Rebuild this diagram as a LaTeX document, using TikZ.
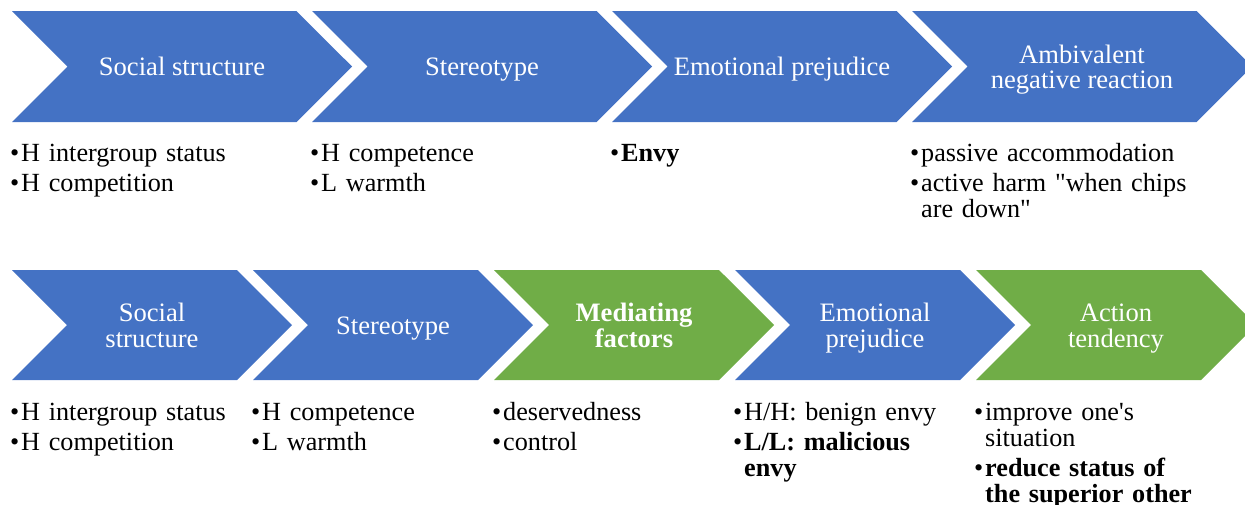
\documentclass[tikz,border=0pt]{standalone}
\usepackage{fontspec}
\setmainfont{Liberation Serif}[Ligatures=TeXOff]
\usetikzlibrary{shapes.symbols}
\definecolor{chevblue}{HTML}{4472C4}
\definecolor{chevgreen}{HTML}{70AD47}
\newcommand{\pitem}[1]{\par\noindent\makebox[11pt][l]{\rule{0pt}{20pt}\textbullet}#1}
\newcommand{\pcont}{\newline\hspace*{11pt}}
\newcommand{\chevtext}[1]{\raisebox{-4pt}[\height][\depth]{\setlength{\tabcolsep}{0pt}\begin{tabular}{c}#1\end{tabular}}}

\begin{document}
\begin{tikzpicture}[x=1pt,y=-1pt]
\useasboundingbox (0,0) rectangle (1245,504);
\tikzstyle{every node}=[inner sep=0pt,
			font=\fontsize{26.6}{25.5}\selectfont
			]
\tikzstyle{chevron}=[signal,
			signal from=west,
			signal to=east,
			signal pointer angle=90,
			draw=none,
			text=white
			]
\tikzstyle{wide}=[chevron, minimum width=340, minimum height=111]
\tikzstyle{narrow}=[chevron, minimum width=280, minimum height=110]
\tikzstyle{bullets}=[anchor=north west,
			text width=300,
			align=left,
			font=\fontsize{26.2}{26}\selectfont,
			execute at begin node={\setlength{\parskip}{4pt}}
			]


\node[wide, fill=chevblue] (social1) at (182,66.5) {\chevtext{Social structure}};
        

\node[wide, fill=chevblue] (stereo1) at (482,66.5) {\chevtext{Stereotype}};
        

\node[wide, fill=chevblue] (emo1) at (782,66.5) {\chevtext{Emotional prejudice}};
        

\node[wide, fill=chevblue] (react1) at (1082,66.5) {\chevtext{Ambivalent\\negative reaction}};
        

\node[bullets] (social1list) at (10,131) {\pitem{H intergroup status}\pitem{H competition}};
        

\node[bullets] (stereo1list) at (310,131) {\pitem{H competence}\pitem{L warmth}};
        

\node[bullets] (emo1list) at (610,131) {\pitem{\textbf{Envy}}};
        

\node[bullets] (react1list) at (910,131) {\pitem{passive accommodation}\pitem{active harm "when chips\pcont are down"}};
        

\node[narrow, fill=chevblue] (social2) at (152,325) {\chevtext{Social\\structure}};
        

\node[narrow, fill=chevblue] (stereo2) at (393,325) {\chevtext{Stereotype}};
        

\node[narrow, fill=chevgreen, font=\fontsize{26.6}{25.5}\selectfont\bfseries] (mediate2) at (634,325) {\chevtext{Mediating\\factors}};
        

\node[narrow, fill=chevblue] (emo2) at (875,325) {\chevtext{Emotional\\prejudice}};
        

\node[narrow, fill=chevgreen] (action2) at (1116,325) {\chevtext{Action\\tendency}};
        

\node[bullets] (social2list) at (10,390) {\pitem{H intergroup status}\pitem{H competition}};
        

\node[bullets] (stereo2list) at (251,390) {\pitem{H competence}\pitem{L warmth}};
        

\node[bullets] (mediate2list) at (492,390) {\pitem{deservedness}\pitem{control}};
        

\node[bullets] (emo2list) at (733,390) {\pitem{H/H: benign envy}\pitem{\textbf{L/L: malicious}\pcont\textbf{envy}}};
        

\node[bullets] (action2list) at (974,390) {\pitem{improve one's\pcont situation}\pitem{\textbf{reduce status of}\pcont\textbf{the superior other}}};
        

\end{tikzpicture}
\end{document}
